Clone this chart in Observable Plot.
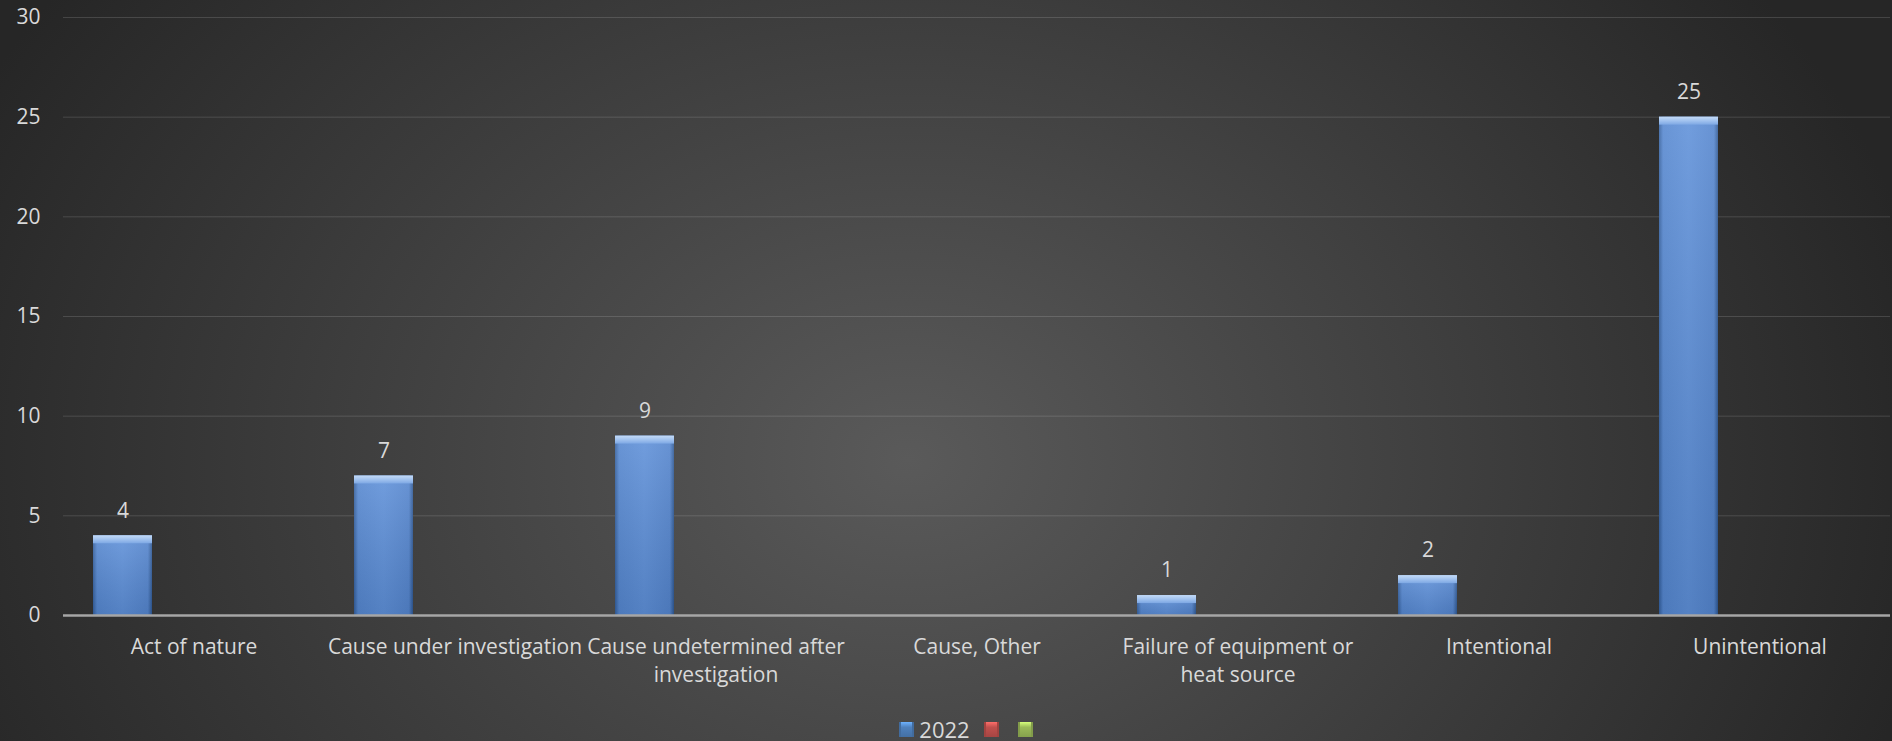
<!DOCTYPE html>
<html>
<head>
<meta charset="utf-8">
<script src="https://cdn.jsdelivr.net/npm/d3@7"></script>
<script src="https://cdn.jsdelivr.net/npm/@observablehq/plot@0.6"></script>
<style>
  html, body { margin: 0; padding: 0; }
  body {
    width: 1892px; height: 741px; overflow: hidden;
    background: radial-gradient(ellipse 1040px 815px at 48% 62%, #5a5a5a 0%, #262626 100%);
    font-family: "Open Sans", Lato, sans-serif;
  }
  #chart svg { display: block; background: transparent; }
  #legend {
    display: flex; justify-content: center; align-items: center;
    height: 26px; margin-top: 16px; padding-left: 40px;
    color: #d9d9d9; font-size: 22px; line-height: 26px;
  }
  .item { display: flex; align-items: center; }
  .swatch { width: 15px; height: 15px; box-sizing: border-box; }
</style>
</head>
<body>
<div id="chart"></div>
<div id="legend"></div>
<script>
// Fire counts by cause
const categories = [
  "Act of nature",
  "Cause under investigation",
  "Cause undetermined after investigation",
  "Cause, Other",
  "Failure of equipment or heat source",
  "Intentional",
  "Unintentional"
];
const tickLabels = [
  "Act of nature",
  "Cause under investigation",
  "Cause undetermined after\ninvestigation",
  "Cause, Other",
  "Failure of equipment or\nheat source",
  "Intentional",
  "Unintentional"
];
const values2022 = [4, 7, 9, null, 1, 2, 25];
const seriesKeys = ["2022", "series2", "series3"];
const seriesLabels = ["2022", "", ""];
const seriesColors = ["#4f81bd", "#c0504d", "#9bbb59"];
const yTicks = [0, 5, 10, 15, 20, 25, 30];

// one row per category × series; only the 2022 series carries values
const rows = categories.flatMap((c, i) =>
  seriesKeys.map((s, j) => ({category: c, series: s, value: j === 0 ? values2022[i] : null}))
);
const filled = rows.filter(d => d.value != null);
const labelOf = new Map(categories.map((c, i) => [c, tickLabels[i]]));

const textColor = "#d9d9d9";
const fontSize = 21;

const svg = Plot.plot({
  width: 1892,
  height: 700,
  marginLeft: 60,
  marginRight: 0,
  marginTop: 17,
  marginBottom: 85,
  style: {fontFamily: "'Open Sans', Lato, sans-serif", background: "transparent", color: textColor},
  fx: {domain: categories, padding: 0, label: null},
  x: {domain: seriesKeys, paddingInner: 0.17, paddingOuter: 0.4, axis: null},
  y: {domain: [0, 30], label: null},
  marks: [
    Plot.gridY(yTicks, {stroke: "#ffffff", strokeOpacity: 0.14, strokeWidth: 1}),
    Plot.barY(filled, {fx: "category", x: "series", y: "value", fill: "url(#barBody)"}),
    Plot.barY(filled, {fx: "category", x: "series", y: "value", fill: "url(#barShade)"}),
    // bevelled cap on top of each bar
    Plot.barY(filled, {fx: "category", x: "series", y1: "value", y2: "value", insetBottom: -8, fill: "url(#barCap)"}),
    // category axis line, one segment per category
    Plot.ruleY(categories, {fx: d => d, y: 0, stroke: "#a6a6a6", strokeWidth: 2.5}),
    Plot.text(filled, {fx: "category", x: "series", y: "value", text: d => String(d.value), dy: -25, fill: textColor, fontSize}),
    Plot.axisY(yTicks, {anchor: "left", facetAnchor: "left", tickSize: 0, tickPadding: 23, fontSize, fill: textColor, label: null}),
    Plot.axisFx({anchor: "bottom", tickSize: 0, tickPadding: 19, fontSize, lineHeight: 1.32, fill: textColor, label: null, tickFormat: d => labelOf.get(d)})
  ]
});

// gradients for the bevelled bars
const defs = d3.select(svg).insert("defs", ":first-child");
const body = defs.append("linearGradient").attr("id", "barBody").attr("x1", 0).attr("x2", 1).attr("y1", 0).attr("y2", 0);
[[0, "#34609f"], [0.07, "#5587d0"], [0.5, "#5e90d9"], [0.93, "#5485ce"], [1, "#2f5995"]]
  .forEach(([o, c]) => body.append("stop").attr("offset", o).attr("stop-color", c));
const shade = defs.append("linearGradient").attr("id", "barShade").attr("x1", 0).attr("x2", 0).attr("y1", 0).attr("y2", 1);
shade.append("stop").attr("offset", 0).attr("stop-color", "#ffffff").attr("stop-opacity", 0.12);
shade.append("stop").attr("offset", 1).attr("stop-color", "#000000").attr("stop-opacity", 0.1);
const cap = defs.append("linearGradient").attr("id", "barCap").attr("x1", 0).attr("x2", 0).attr("y1", 0).attr("y2", 1);
[[0, "#c4dbf7"], [0.5, "#a2c3ef"], [1, "#7ea8e4"]]
  .forEach(([o, c]) => cap.append("stop").attr("offset", o).attr("stop-color", c));

document.getElementById("chart").appendChild(svg);

// legend
const legend = d3.select("#legend");
const gaps = [14, 19, 0];
seriesKeys.forEach((k, i) => {
  const item = legend.append("div").attr("class", "item").style("margin-right", gaps[i] + "px");
  const c = d3.color(seriesColors[i]);
  item.append("div").attr("class", "swatch")
    .style("background", `linear-gradient(${c.brighter(0.9)} 0%, ${c} 35%, ${c.darker(0.4)} 100%)`)
    .style("border-left", `2px solid ${c.darker(0.5)}`)
    .style("border-right", `2px solid ${c.darker(0.5)}`)
    .style("margin-right", seriesLabels[i] ? "5px" : "0");
  if (seriesLabels[i]) item.append("span").text(seriesLabels[i]);
});
</script>
</body>
</html>
